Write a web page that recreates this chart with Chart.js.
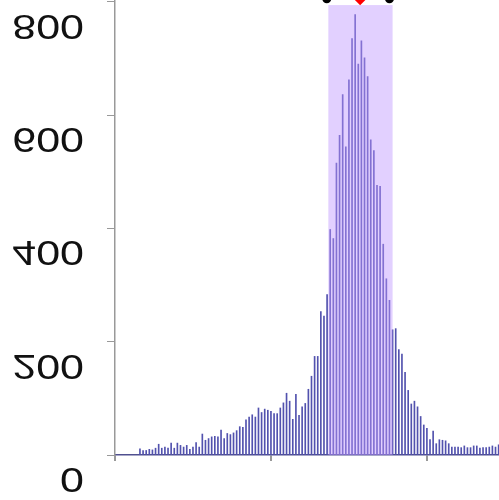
<!DOCTYPE html>
<html><head><meta charset="utf-8">
<script src="https://cdn.jsdelivr.net/npm/chart.js@4"></script>
<style>
html,body{margin:0;padding:0;overflow:hidden;background:#fff;width:499px;height:500px}
#wrap{position:absolute;left:0;top:-55px}
</style></head>
<body><div id="wrap"><canvas id="c" width="600" height="560"></canvas></div>
<script>
// ---- data ----
const binStart = 8;
const counts = [11,8,8,10,9,12,19,12,14,12,21,12,21,17,14,17,10,14,22,14,
  37,26,29,32,33,32,44,29,38,36,39,43,50,49,62,67,71,67,83,75,
  81,79,77,73,73,83,92,109,95,63,107,70,85,91,116,139,174,174,253,245,
  283,398,382,515,564,636,544,662,735,777,690,731,701,668,556,537,476,474,372,311,
  273,221,223,186,178,146,114,90,95,85,68,53,47,27,42,20,27,26,25,20,
  14,14,14,13,16,13,13,16,16,12,13,13,14,16,14,18];
const yTickLabels = [0,200,400,600,800];
const bandRange = [68.4, 89.0];
const bandTop = 794;
const intervalEnds = [67.9, 88.0];
const centerPoint = 78.6;
const markerLevel = 805;

const barData = counts.map((v,i)=>({x: binStart+i, y: v}));

const bandPlugin = {
  id:'band',
  afterDatasetDraw(chart, args){
    if (args.index !== 0) return;
    const xs = chart.scales.x, ys = chart.scales.y, c = chart.ctx;
    const x0 = xs.getPixelForValue(bandRange[0]), x1 = xs.getPixelForValue(bandRange[1]);
    const y0 = ys.getPixelForValue(0), y1 = ys.getPixelForValue(bandTop);
    c.save();
    c.fillStyle = 'rgba(190,150,255,0.45)';
    c.fillRect(x0, y1, x1-x0, y0-y1);
    c.restore();
  }
};

const labelPlugin = {
  id:'flippedLabels',
  afterDraw(chart){
    const ys = chart.scales.y, c = chart.ctx, size = 43;
    c.save();
    c.fillStyle = '#111';
    c.font = size + 'px "Liberation Sans", Arial, sans-serif';
    c.textAlign = 'right';
    c.textBaseline = 'alphabetic';
    for (const v of yTickLabels){
      const py = ys.getPixelForValue(v) + 25.5;
      c.save();
      c.translate(84, py);
      c.scale(1, -0.82);
      c.fillText(String(v), 0, size*0.358);
      c.restore();
    }
    c.restore();
  }
};

new Chart(document.getElementById('c'), {
  type:'bar',
  data:{datasets:[
    {type:'bar', data:barData, backgroundColor:'#5252ae', barThickness:1, order:2},
    {type:'scatter', data:[{x:intervalEnds[0],y:markerLevel},{x:intervalEnds[1],y:markerLevel}],
      pointRadius:4.5, pointBackgroundColor:'#000', pointBorderWidth:0, order:1},
    {type:'scatter', data:[{x:centerPoint,y:markerLevel}], pointStyle:'rectRot',
      pointRadius:6.5, pointBackgroundColor:'#ff0000', pointBorderWidth:0, order:0}
  ]},
  options:{
    responsive:false, animation:false, events:[],
    layout:{padding:0, autoPadding:false},
    plugins:{legend:{display:false}, tooltip:{enabled:false}},
    scales:{
      x:{type:'linear', min:0, max:155.5, offset:false,
        ticks:{display:false, stepSize:50},
        grid:{drawOnChartArea:false, color:'#999', lineWidth:2, tickLength:6, offset:false},
        border:{color:'#50508f', width:1.5},
        afterFit(s){ s.height = 50; }},
      y:{min:0, max:900,
        ticks:{display:false, stepSize:200},
        grid:{drawOnChartArea:false, color:'#999', tickLength:8},
        border:{color:'#999', width:1.5},
        afterFit(s){ s.width = 115; }}
    }
  },
  plugins:[bandPlugin, labelPlugin]
});
</script>
</body></html>
